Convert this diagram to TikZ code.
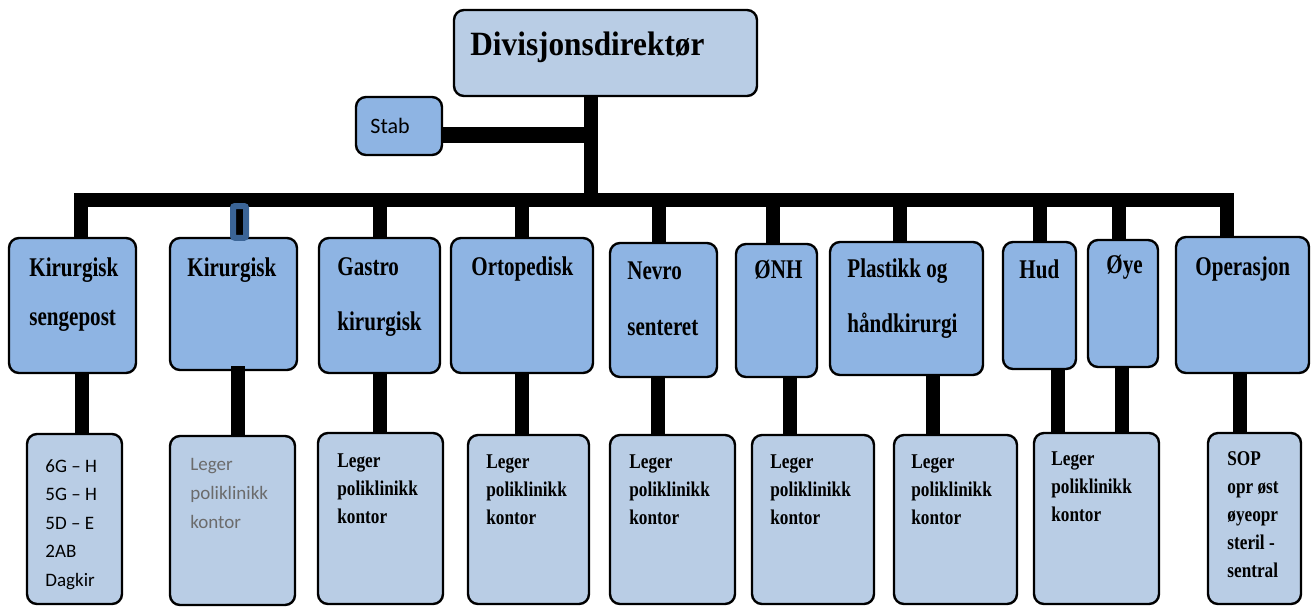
\documentclass[tikz,border=0pt]{standalone}
\usepackage{fontspec}
\usetikzlibrary{fit,backgrounds,calc}

% Fonts: condensed bold serif for the units, Calibri-like sans for notes
\newfontfamily\headfont[FakeStretch=0.92]{Liberation Serif Bold}
\newfontfamily\deptfont[FakeStretch=0.78]{Liberation Serif Bold}
\newfontfamily\notefont[FakeStretch=0.82]{Liberation Serif Bold}
\newfontfamily\calfont{Carlito}

\definecolor{boxlight}{HTML}{B9CDE5}
\definecolor{boxmid}{HTML}{8EB4E3}
\definecolor{frameblue}{HTML}{3B6496}
\definecolor{softgray}{HTML}{6B6B6B}

% stacked lines, aligned on the baseline of the first line
\newcommand\rowsof[1]{\begin{tabular}[t]{@{}l@{}}#1\end{tabular}}

\tikzset{
  orgbox/.style={draw=black, line width=1.2pt, rounded corners=5pt, inner sep=0pt},
  lightbox/.style={orgbox, fill=boxlight},
  midbox/.style={orgbox, fill=boxmid},
  conn/.style={draw=black, line width=7pt},
  txt/.style={anchor=base west, inner sep=0pt, text=black},
  headtxt/.style={txt, font=\headfont\fontsize{17}{20}\selectfont},
  depttxt/.style={txt, font=\deptfont\fontsize{13.5}{#1}\selectfont},
  depttxt/.default=27.5,
  notetxt/.style={txt, font=\notefont\fontsize{10.5}{14}\selectfont},
  caltxt/.style={txt, font=\calfont\fontsize{9.5}{#1}\selectfont},
  caltxt/.default=14.25
}

\begin{document}
\begin{tikzpicture}[x=0.5pt,y=-0.5pt]
\useasboundingbox (0,0) rectangle (1315,607);

% ---- top level and staff ----
\node[lightbox, fit={(454,10) (757,96)}] (top) {};
\node[headtxt] (top-t) at (470,55) {Divisjonsdirektør};
\node[midbox, fit={(356,97) (442,155)}] (stab) {};
\node[txt, font=\calfont\fontsize{11}{13}\selectfont] (stab-t) at (370,133) {Stab};

% ---- departments ----
\node[midbox, fit={(9,238) (136,373)}] (k1) {};
\node[midbox, fit={(170,238) (297,370)}] (k2) {};
\node[midbox, fit={(319,238) (440,373)}] (k3) {};
\node[midbox, fit={(451,238) (593,373)}] (k4) {};
\node[midbox, fit={(610,243) (717,377)}] (k5) {};
\node[midbox, fit={(736,244) (817,377)}] (k6) {};
\node[midbox, fit={(830,242) (983,375)}] (k7) {};
\node[midbox, fit={(1003,242) (1076,369)}] (k8) {};
\node[midbox, fit={(1088,240) (1158,367)}] (k9) {};
\node[midbox, fit={(1176,237) (1309,373)}] (k10) {};

\node[depttxt=24.5] (k1-t) at (29,276) {\rowsof{Kirurgisk\\sengepost}};
\node[depttxt] (k2-t) at (187,276) {Kirurgisk};
\node[depttxt] (k3-t) at (337,275) {\rowsof{Gastro\\kirurgisk}};
\node[depttxt] (k4-t) at (471,275) {Ortopedisk};
\node[depttxt=28] (k5-t) at (627,279) {\rowsof{Nevro\\senteret}};
\node[depttxt] (k6-t) at (754,278) {ØNH};
\node[depttxt] (k7-t) at (847,277) {\rowsof{Plastikk og\\håndkirurgi}};
\node[depttxt] (k8-t) at (1019,278) {Hud};
\node[depttxt] (k9-t) at (1106,273) {Øye};
\node[depttxt] (k10-t) at (1195,275) {Operasjon};

% ---- sections ----
\node[lightbox, fit={(27,434) (122,604)}] (b1) {};
\node[lightbox, fit={(170,436) (295,605)}] (b2) {};
\node[lightbox, fit={(318,433) (443,604)}] (b3) {};
\node[lightbox, fit={(468,435) (589,604)}] (b4) {};
\node[lightbox, fit={(610,435) (735,604)}] (b5) {};
\node[lightbox, fit={(752,435) (874,604)}] (b6) {};
\node[lightbox, fit={(894,435) (1017,604)}] (b7) {};
\node[lightbox, fit={(1034,433) (1159,604)}] (b8) {};
\node[lightbox, fit={(1208,433) (1301,604)}] (b10) {};

\node[caltxt] (b1-t) at (45,472) {\rowsof{6G – H\\5G – H\\5D – E\\2AB\\Dagkir}};
\node[caltxt=14.5, text=softgray] (b2-t) at (190,470) {\rowsof{Leger\\poliklinikk\\kontor}};
\node[notetxt] (b3-t) at (337,467) {\rowsof{Leger\\poliklinikk\\kontor}};
\node[notetxt] (b4-t) at (486,468) {\rowsof{Leger\\poliklinikk\\kontor}};
\node[notetxt] (b5-t) at (629,468) {\rowsof{Leger\\poliklinikk\\kontor}};
\node[notetxt] (b6-t) at (770,468) {\rowsof{Leger\\poliklinikk\\kontor}};
\node[notetxt] (b7-t) at (911,468) {\rowsof{Leger\\poliklinikk\\kontor}};
\node[notetxt] (b8-t) at (1051,465) {\rowsof{Leger\\poliklinikk\\kontor}};
\node[notetxt] (b10-t) at (1227,465) {\rowsof{SOP\\opr øst\\øyeopr\\steril -\\sentral}};

% ---- junction points ----
\coordinate (hub) at (591,200);
\coordinate (stabjoin) at (591,135);
\coordinate (j1) at (81,200);
\coordinate (j2) at (239.5,200);
\coordinate (j3) at (380,200);
\coordinate (j4) at (522,200);
\coordinate (j5) at (659,200);
\coordinate (j6) at (773,200);
\coordinate (j7) at (900,200);
\coordinate (j8) at (1040,200);
\coordinate (j9) at (1119,200);
\coordinate (j10) at (1227,200);
\coordinate (v1) at (82,400);
\coordinate (v2) at (238,400);
\coordinate (v3) at (380,400);
\coordinate (v4) at (522,400);
\coordinate (v5) at (658,400);
\coordinate (v6) at (790,400);
\coordinate (v7) at (933,400);
\coordinate (v8) at (1058,400);
\coordinate (v9) at (1122,400);
\coordinate (v10) at (1240,400);

% ---- connectors behind the boxes ----
\begin{scope}[on background layer]
  \draw[conn] (top.south -| hub) -- (hub);
  \draw[conn, line width=8pt] (stabjoin -| stab.east) -- (stabjoin);
  \draw[conn] (j1 |- k1.north) -- (j1) -- (j10) -- (j10 |- k10.north);
  \foreach \i in {3,...,9} {
    \draw[conn] (j\i) -- (j\i |- k\i.north);
  }
  \foreach \i in {1,3,4,5,6,7,10} {
    \draw[conn] (v\i |- k\i.south) -- (v\i |- b\i.north);
  }
  \draw[conn] (v8 |- k8.south) -- (v8 |- b8.north);
  \draw[conn] (v9 |- k9.south) -- (v9 |- b8.north);
\end{scope}

% ---- Kirurgisk links, drawn over its box ----
\draw[line width=3pt, draw=frameblue, fill=black, rounded corners=1pt]
  ($(j2)+(-6.5,6)$) rectangle ($(j2 |- k2.north)+(6.5,1)$);
\draw[conn] ($(v2 |- k2.south)+(0,-5)$) -- (v2 |- b2.north);

\end{tikzpicture}
\end{document}
